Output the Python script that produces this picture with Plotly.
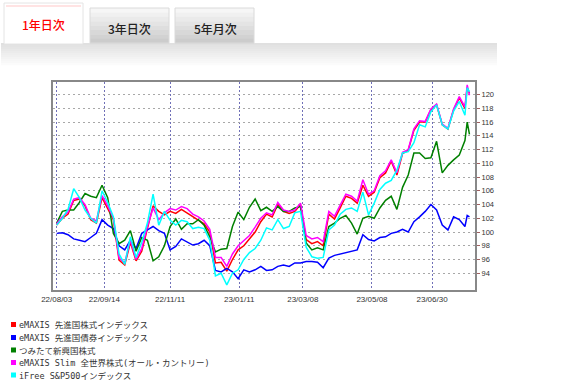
import plotly.graph_objects as go

# ---------------- data ----------------
dates = [
    "2022-08-03", "2022-08-08", "2022-08-13", "2022-08-18", "2022-08-23",
    "2022-08-28", "2022-09-02", "2022-09-07", "2022-09-12", "2022-09-17",
    "2022-09-22", "2022-09-27", "2022-10-02", "2022-10-07", "2022-10-12",
    "2022-10-17", "2022-10-22", "2022-10-27", "2022-11-01", "2022-11-06",
    "2022-11-11", "2022-11-16", "2022-11-21", "2022-11-26", "2022-12-01",
    "2022-12-06", "2022-12-11", "2022-12-16", "2022-12-21", "2022-12-26",
    "2022-12-31", "2023-01-05", "2023-01-10", "2023-01-15", "2023-01-20",
    "2023-01-25", "2023-01-30", "2023-02-04", "2023-02-09", "2023-02-14",
    "2023-02-19", "2023-02-24", "2023-03-01", "2023-03-06", "2023-03-11",
    "2023-03-16", "2023-03-21", "2023-03-26", "2023-03-31", "2023-04-05",
    "2023-04-10", "2023-04-15", "2023-04-20", "2023-04-25", "2023-04-30",
    "2023-05-05", "2023-05-10", "2023-05-15", "2023-05-20", "2023-05-25",
    "2023-05-30", "2023-06-04", "2023-06-09", "2023-06-14", "2023-06-19",
    "2023-06-24", "2023-06-29", "2023-07-04", "2023-07-09", "2023-07-14",
    "2023-07-19", "2023-07-24", "2023-07-29", "2023-07-31", "2023-08-02",
]

dev_equity = [  # eMAXIS 先進国株式インデックス (red)
    101.0, 102.0, 102.6, 104.6, 104.8, 103.8, 101.8, 101.3, 105.0, 103.5,
    101.8, 95.9, 95.2, 98.5, 95.8, 97.2, 100.5, 103.8, 103.0, 102.5,
    103.0, 102.7, 103.3, 102.8, 102.2, 101.8, 101.2, 100.0, 95.5, 95.6,
    94.3, 96.0, 97.4, 98.0, 99.0, 100.0, 101.5, 102.6, 102.2, 104.0,
    103.0, 102.7, 103.0, 104.0, 98.9, 98.3, 98.6, 98.0, 102.6, 101.9,
    103.5, 105.2, 104.9, 104.2, 106.8, 105.2, 105.8, 107.9, 108.6, 110.3,
    108.3, 111.4, 111.9, 114.8, 116.0, 116.0, 117.8, 118.5, 115.6, 115.0,
    117.8, 119.5, 118.0, 121.0, 120.2,
]

dev_bond = [  # eMAXIS 先進国債券インデックス (blue)
    99.8, 99.9, 99.6, 99.0, 98.8, 98.6, 99.2, 99.8, 101.8, 101.0,
    100.5, 98.0, 97.4, 98.8, 97.6, 99.8, 100.3, 100.8, 100.2, 99.8,
    97.4, 97.9, 99.0, 98.6, 98.1, 98.3, 98.8, 98.0, 94.4, 94.2,
    94.7, 94.2, 93.2, 94.5, 94.2, 94.5, 95.0, 94.4, 94.5, 95.0,
    95.2, 95.0, 95.5, 95.5, 95.7, 95.7, 95.6, 94.8, 96.2, 96.6,
    96.8, 97.0, 97.2, 97.4, 99.6, 98.9, 98.7, 99.2, 99.3, 99.8,
    100.0, 100.4, 100.0, 101.5, 102.2, 103.0, 104.0, 103.2, 101.0, 100.3,
    102.2, 101.8, 100.8, 102.4, 102.2,
]

emerging_equity = [  # つみたて新興国株式 (green)
    101.3, 103.0, 103.2, 103.2, 104.3, 105.6, 105.2, 105.0, 106.8, 105.0,
    99.8, 98.3, 98.8, 100.2, 97.2, 99.2, 98.8, 95.8, 96.4, 98.0,
    100.8, 101.9, 100.4, 101.2, 101.2, 101.8, 101.0, 99.3, 97.1, 97.5,
    97.6, 100.8, 102.9, 101.8, 103.6, 104.8, 103.1, 103.6, 103.0, 103.7,
    103.0, 103.0, 103.5, 103.7, 98.4, 97.4, 97.7, 97.4, 100.8, 101.3,
    102.0, 102.4, 101.3, 99.7, 102.0, 102.3, 102.0, 103.5, 104.6, 105.2,
    103.3, 106.5, 108.3, 111.5, 111.5, 110.7, 110.8, 113.2, 108.6, 109.7,
    110.5, 111.2, 113.3, 116.0, 114.2,
]

all_country = [  # eMAXIS Slim 全世界株式(オール・カントリー) (magenta)
    101.2, 102.2, 102.9, 104.8, 105.0, 104.0, 102.0, 101.6, 105.3, 103.8,
    102.0, 96.2, 95.5, 98.8, 96.0, 97.6, 100.8, 103.5, 101.8, 102.8,
    103.4, 103.2, 103.7, 103.4, 102.6, 102.2, 101.6, 100.4, 96.3, 96.3,
    95.0, 96.8, 98.0, 98.8, 99.5, 100.7, 102.0, 102.8, 102.5, 104.3,
    103.2, 103.0, 103.2, 104.2, 99.5, 99.0, 99.2, 98.6, 103.0, 102.3,
    103.8, 105.5, 105.2, 104.5, 107.6, 105.5, 106.0, 108.2, 108.9, 110.5,
    108.6, 111.6, 112.0, 115.0, 116.2, 116.1, 117.9, 118.6, 115.7, 115.1,
    117.9, 119.7, 118.2, 121.4, 119.9,
]

sp500 = [  # iFree S&P500インデックス (cyan)
    101.0, 102.0, 103.3, 106.3, 105.0, 103.2, 102.0, 101.3, 106.0, 104.3,
    102.2, 96.8, 95.3, 99.3, 96.3, 98.5, 101.3, 105.5, 101.0, 103.0,
    101.7, 101.0, 101.7, 101.5, 100.5, 100.7, 100.5, 98.8, 93.6, 94.0,
    92.3, 94.0, 94.5, 96.0, 97.0, 97.6, 98.8, 100.6, 100.3, 101.8,
    100.5, 100.8, 102.8, 103.0, 97.8, 96.4, 96.2, 96.3, 100.3, 101.0,
    102.6, 103.3, 103.5, 103.0, 105.8, 102.5, 104.2, 106.2, 107.1, 107.5,
    109.0, 111.5, 111.7, 113.0, 115.6, 115.3, 117.5, 118.5, 115.6, 115.0,
    117.6, 119.0, 117.0, 121.0, 120.4,
]

series_names = [
    "eMAXIS 先進国株式インデックス",
    "eMAXIS 先進国債券インデックス",
    "つみたて新興国株式",
    "eMAXIS Slim 全世界株式(オール・カントリー)",
    "iFree S&P500インデックス",
]
series_values = [dev_equity, dev_bond, emerging_equity, all_country, sp500]
series_colors = ["#ff0000", "#0000ff", "#008000", "#ff00ff", "#00ffff"]

x_tick_dates = ["2022-08-03", "2022-09-14", "2022-11-11", "2023-01-11",
                "2023-03-08", "2023-05-08", "2023-06-30"]
x_tick_labels = ["22/08/03", "22/09/14", "22/11/11", "23/01/11",
                 "23/03/08", "23/05/08", "23/06/30"]
y_ticks = [94, 96, 98, 100, 102, 104, 106, 108, 110, 112, 114, 116, 118, 120]

tab_labels = ["1年日次", "3年日次", "5年月次"]

for v in series_values:
    assert len(v) == len(dates)

# ---------------- layout geometry ----------------
W, H = 567, 386
ML, MR, MT, MB = 53, 92, 82, 96
PW = W - ML - MR
PH = H - MT - MB


def fx(px):
    return (px - ML) / PW


def fy(py):
    return (H - MB - py) / PH


fig = go.Figure()
for name, vals, col in zip(series_names, series_values, series_colors):
    fig.add_trace(go.Scatter(
        x=dates, y=vals, mode="lines", name=name,
        line=dict(color=col, width=1.5), showlegend=False,
        hoverinfo="skip",
    ))

shapes = []
annotations = []


def rect(x0, y0, x1, y1, fill, line=None, lw=0):
    shapes.append(dict(
        type="rect", xref="paper", yref="paper",
        x0=fx(x0), x1=fx(x1), y0=fy(y1), y1=fy(y0),
        fillcolor=fill, line=dict(color=line or fill, width=lw),
        layer="above",
    ))


def hexmix(c0, c1, t):
    a = [int(c0[i:i + 2], 16) for i in (1, 3, 5)]
    b = [int(c1[i:i + 2], 16) for i in (1, 3, 5)]
    return "#" + "".join("%02x" % round(a[i] + (b[i] - a[i]) * t) for i in range(3))


# gradient bar under tabs
n = 11
for i in range(n):
    y0 = 43 + i * 22 / n
    rect(1, y0, 497, y0 + 22 / n + 0.3, hexmix("#e0e0e0", "#fbfbfb", i / (n - 1)))

# inactive tabs (gradient)
for tx0, tx1 in [(90, 169), (175, 254)]:
    m = 8
    for i in range(m):
        y0 = 8 + i * 35 / m
        rect(tx0, y0, tx1, y0 + 35 / m + 0.3, hexmix("#f6f6f6", "#cccccc", i / (m - 1)))
    shapes.append(dict(type="rect", xref="paper", yref="paper",
                       x0=fx(tx0), x1=fx(tx1), y0=fy(43), y1=fy(8),
                       line=dict(color="#dadada", width=1), layer="above"))

# active tab
rect(4, 3, 83, 44, "#ffffff", "#e4e4e4", 1)
rect(6, 5.5, 81, 6.5, "#ffc8c8")

tab_centers = [(43, 24, "#ff0000"), (129, 28, "#222222"), (215, 28, "#222222")]
for lab, (cx, cy, col) in zip(tab_labels, tab_centers):
    annotations.append(dict(
        text=lab, xref="paper", yref="paper", x=fx(cx), y=fy(cy),
        xanchor="center", yanchor="middle", showarrow=False,
        font=dict(family="Noto Sans CJK JP", size=12, color=col, weight=500),
    ))

# legend (squares + text)
legend_rows = [325, 338, 350.5, 363, 375.5]
for name, col, ry in zip(series_names, series_colors, legend_rows):
    rect(11, ry - 3, 16, ry + 2, col)
    annotations.append(dict(
        text=name, xref="paper", yref="paper", x=fx(17), y=fy(ry),
        xanchor="left", yanchor="middle", showarrow=False,
        font=dict(family="DejaVu Sans Mono, Noto Sans CJK JP", size=8.5,
                  color="#333333"),
    ))

fig.update_layout(
    width=W, height=H,
    margin=dict(l=ML, r=MR, t=MT, b=MB, pad=0),
    paper_bgcolor="white", plot_bgcolor="white",
    shapes=shapes, annotations=annotations,
    showlegend=False,
    xaxis=dict(
        type="date",
        range=["2022-07-30 18:00", "2023-08-06 21:00"],
        tickvals=x_tick_dates, ticktext=x_tick_labels,
        showgrid=True, gridcolor="#7070b8", griddash="2px,2px", gridwidth=1,
        showline=True, linecolor="#888888", linewidth=2, mirror=True,
        ticks="", zeroline=False,
        tickfont=dict(family="Liberation Sans", size=8, color="#333333"),
    ),
    yaxis=dict(
        side="right",
        range=[91.56, 121.83],
        tickvals=y_ticks, ticktext=[str(t) for t in y_ticks],
        showgrid=True, gridcolor="#a8a8a8", griddash="2px,3px", gridwidth=1,
        showline=True, linecolor="#888888", linewidth=2, mirror=True,
        ticks="outside", ticklen=3, tickcolor="#a06060", tickwidth=1,
        zeroline=False,
        tickfont=dict(family="Liberation Sans", size=7.5, color="#333333"),
    ),
)

fig.write_html("out.html", include_plotlyjs=True,
               config={"displayModeBar": False, "staticPlot": True},
               post_script="document.body.style.margin='0';")
